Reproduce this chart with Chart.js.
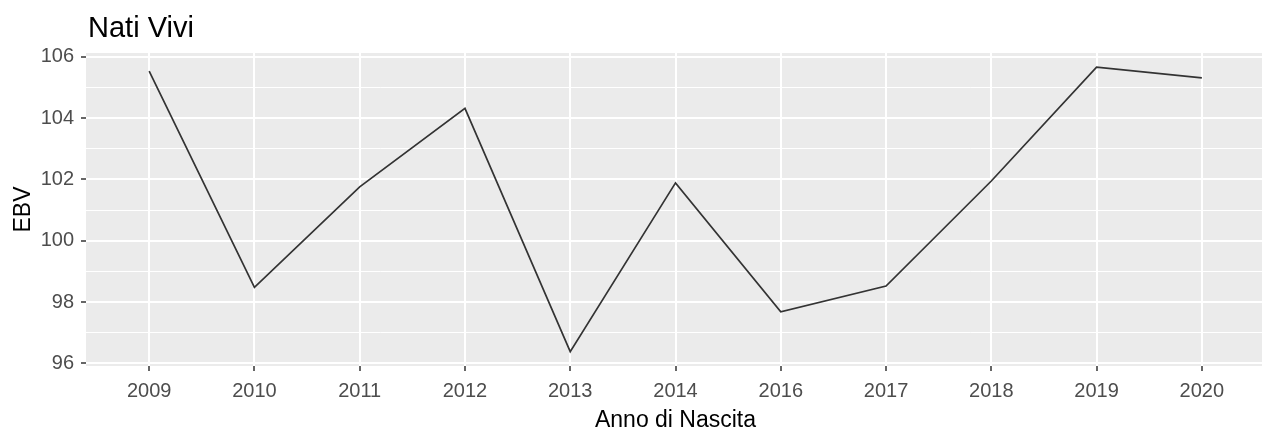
<!DOCTYPE html>
<html>
<head>
<meta charset="utf-8">
<script src="https://cdn.jsdelivr.net/npm/chart.js@4/dist/chart.umd.min.js"></script>
<style>
    html, body { margin: 0; padding: 0; background: #ffffff; overflow: hidden; }
    #wrap { width: 1265px; height: 432px; }
</style>
</head>
<body>
<div id="wrap"><canvas id="ebv-chart" width="1265" height="432"></canvas></div>
<script>
const years = ['2009', '2010', '2011', '2012', '2013', '2014', '2016', '2017', '2018', '2019', '2020'];
const ebv = [105.54, 98.48, 101.76, 104.32, 96.38, 101.89, 97.68, 98.52, 101.95, 105.67, 105.32];
const yTicks = [96, 97, 98, 99, 100, 101, 102, 103, 104, 105, 106];

const tickFont = { family: 'Liberation Sans, Arial, sans-serif', size: 20 };
const titleFont = { family: 'Liberation Sans, Arial, sans-serif', size: 23 };

const isMajor = (v) => v % 2 === 0;

// ggplot-like grey panel plus the plot title aligned to the panel
const panelPlugin = {
    id: 'panel',
    beforeDraw(chart) {
        const { ctx, chartArea } = chart;
        ctx.save();
        ctx.fillStyle = '#ebebeb';
        ctx.fillRect(chartArea.left, chartArea.top, chartArea.right - chartArea.left, chartArea.bottom - chartArea.top);
        ctx.restore();
    },
    afterDraw(chart) {
        const { ctx, chartArea } = chart;
        ctx.save();
        ctx.fillStyle = '#000000';
        ctx.font = '29px "Liberation Sans", Arial, sans-serif';
        ctx.textBaseline = 'alphabetic';
        ctx.fillText('Nati Vivi', chartArea.left + 2, 37);
        ctx.restore();
    },
};

new Chart(document.getElementById('ebv-chart').getContext('2d'), {
    type: 'line',
    data: {
        datasets: [
            {
                data: ebv.map((v, i) => ({ x: i, y: v })),
                borderColor: '#333333',
                borderWidth: 1.7,
                pointRadius: 0,
                tension: 0,
                fill: false,
            },
        ],
    },
    options: {
        responsive: false,
        animation: false,
        layout: { padding: { top: 53, left: 0, right: 0, bottom: 0 } },
        plugins: {
            legend: { display: false },
            tooltip: { enabled: false },
            title: { display: false },
        },
        scales: {
            x: {
                type: 'linear',
                min: -0.6,
                max: 10.6,
                afterBuildTicks: (scale) => {
                    scale.ticks = years.map((_, i) => ({ value: i }));
                },
                afterFit: (scale) => {
                    scale.height = 66;
                },
                border: { display: false },
                grid: {
                    color: '#ffffff',
                    lineWidth: 2,
                    tickColor: '#333333',
                    tickLength: 5,
                    tickWidth: 1.5,
                },
                ticks: {
                    autoSkip: false,
                    maxRotation: 0,
                    padding: 8,
                    color: '#4d4d4d',
                    font: tickFont,
                    callback: (value) => years[value],
                },
                title: {
                    display: true,
                    text: 'Anno di Nascita',
                    color: '#000000',
                    font: titleFont,
                    padding: { top: 0, bottom: -2 },
                },
            },
            y: {
                min: 95.91,
                max: 106.13,
                afterBuildTicks: (scale) => {
                    scale.ticks = yTicks.map((v) => ({ value: v }));
                },
                afterFit: (scale) => {
                    scale.width = 86;
                },
                border: { display: false },
                grid: {
                    color: '#ffffff',
                    lineWidth: (ctx) => (ctx.tick && isMajor(ctx.tick.value) ? 2 : 1),
                    tickColor: (ctx) => (ctx.tick && isMajor(ctx.tick.value) ? '#333333' : 'rgba(0,0,0,0)'),
                    tickLength: 5,
                    tickWidth: 1.5,
                },
                ticks: {
                    autoSkip: false,
                    padding: 7,
                    color: '#4d4d4d',
                    font: tickFont,
                    callback: (value) => (isMajor(value) ? String(value) : ''),
                },
                title: {
                    display: true,
                    text: 'EBV',
                    color: '#000000',
                    font: titleFont,
                    padding: { top: 10, bottom: 0 },
                },
            },
        },
    },
    plugins: [panelPlugin],
});
</script>
</body>
</html>
